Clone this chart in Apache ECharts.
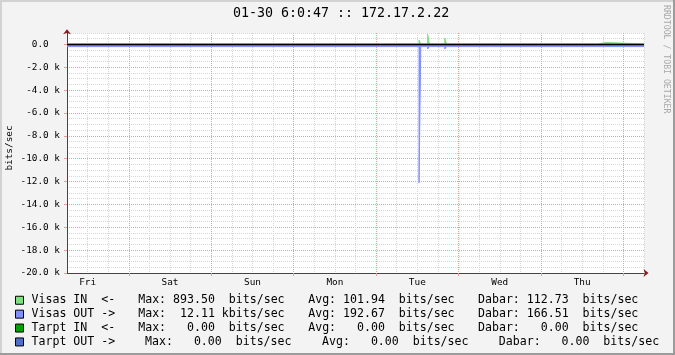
<!DOCTYPE html>
<html><head><meta charset="utf-8">
<script src="https://cdn.jsdelivr.net/npm/echarts@6/dist/echarts.min.js"></script>
<style>html,body{margin:0;padding:0;background:#f3f3f3}#c{width:675px;height:355px}</style>
</head><body><div id="c"></div>
<script>
// ---- data ----
const titleText = '01-30 6:0:47 :: 172.17.2.22';
const watermarkText = 'RRDTOOL / TOBI OETIKER';
const yAxisTitle = 'bits/sec';
const dayLabels = ['Fri', 'Sat', 'Sun', 'Mon', 'Tue', 'Wed', 'Thu'];
const yMajorTicks = [-20000, -18000, -16000, -14000, -12000, -10000, -8000, -6000, -4000, -2000, 0];
const xMajorTicks = [24, 48, 72, 96, 120, 144, 168];
const seriesNames = ['Visas IN', 'Visas OUT', 'Tarpt IN', 'Tarpt OUT'];
const legendLabels = ['Visas IN  <-', 'Visas OUT ->', 'Tarpt IN  <-', 'Tarpt OUT ->'];
const statMax = [893.50, 12.11, 0.00, 0.00];
const statMaxPrefix = [' ', 'k', ' ', ' '];
const statAvg = [101.94, 192.67, 0.00, 0.00];
const statAvgPrefix = [' ', ' ', ' ', ' '];
const statDabar = [112.73, 166.51, 0.00, 0.00];
const statDabarPrefix = [' ', ' ', ' ', ' '];
// hours since Friday 00:00 (first day shown)
const visasInTimes  = [6, 41.5, 42, 68, 68.5, 94.5, 95, 108.5, 109, 111, 111.5, 116, 116.5, 120.5, 121, 147, 147.5, 160.5, 163, 174];
const visasInValues = [40, 170, 40, 170, 40, 190, 40, 380, 40, 893.5, 40, 550, 40, 200, 40, 170, 40, 170, 40, 40];
const visasOutTimes  = [6, 90.5, 91, 96, 96.5, 108.5, 109, 111, 111.5, 116, 116.5, 129, 129.5, 166.5, 167, 168, 168.5, 174];
const visasOutValues = [-190, -100, -190, -100, -190, -12110, -190, -400, -190, -400, -190, -100, -190, -100, -190, -100, -190, -190];
const tarptInTimes = [6, 174];
const tarptInValues = [0, 0];
const tarptOutTimes = [6, 174];
const tarptOutValues = [0, 0];

// ---- styles ----
const MONO = '"DejaVu Sans Mono", monospace';
const colors = ['#7ee07e', '#7f8fff', '#00a000', '#5070c8'];
const GRID_MINOR = '#d6d6d6';
const GRID_MAJOR = '#f09a9a';
const AXIS = '#444444';
const ARROW = '#8b1a1a';

const zip = (t, v) => t.map((x, i) => [x, v[i]]);
const pad6 = (n) => { const s = n.toFixed(2); return ' '.repeat(Math.max(0, 6 - s.length)) + s; };

const LF = 11.58, LH = 13.9;
const tok = (w, extra) => Object.assign({ fontFamily: MONO, fontSize: LF, lineHeight: LH, color: '#000' }, w != null ? { width: w } : {}, extra || {});

const chart = echarts.init(document.getElementById('c'), null, { renderer: 'canvas', devicePixelRatio: 1 });
chart.setOption({
  animation: false,
  backgroundColor: '#f3f3f3',
  title: {
    text: titleText, left: 233, top: 7.5, padding: 0,
    textStyle: { fontFamily: MONO, fontSize: 13.3, fontWeight: 'normal', color: '#000' }
  },
  grid: { left: 67, top: 33, width: 577, height: 240, show: true, backgroundColor: '#ffffff', borderWidth: 0, containLabel: false, outerBoundsMode: 'none' },
  xAxis: [{
    type: 'value', min: 6, max: 174, interval: 6,
    axisLine: { show: true, onZero: false, lineStyle: { color: AXIS, width: 1 } },
    axisTick: { show: false },
    axisLabel: {
      margin: 5, fontFamily: MONO, fontSize: 9.4, color: '#000',
      formatter: (v) => { const d = (v - 12) / 24; return (Number.isInteger(d) && d >= 0 && d < dayLabels.length) ? dayLabels[d] : ''; }
    },
    splitLine: { show: true, lineStyle: { color: [GRID_MINOR, GRID_MINOR, GRID_MINOR, GRID_MAJOR], type: 'dotted', width: 1 } }
  }, {
    type: 'value', min: 6, max: 174, position: 'bottom',
    axisLine: { show: true, onZero: false, symbol: ['none', 'arrow'], symbolSize: [6, 5], symbolOffset: [0, 4.5], lineStyle: { color: ARROW, width: 0 } },
    axisTick: { show: true, customValues: xMajorTicks, length: 3, lineStyle: { color: GRID_MAJOR, width: 1 } },
    axisLabel: { show: false },
    splitLine: { show: false }
  }],
  yAxis: [{
    type: 'value', min: -20000, max: 1000, interval: 500,
    axisLine: { show: true, onZero: false, lineStyle: { color: AXIS, width: 1 } },
    axisTick: { show: false },
    axisLabel: {
      margin: 7, fontFamily: MONO, fontSize: 9.4, color: '#000',
      formatter: (v) => (v % 2000 !== 0) ? '' : (v === 0 ? '0.0  ' : (v / 1000).toFixed(1) + ' k')
    },
    splitLine: { show: true, lineStyle: { color: [GRID_MAJOR, GRID_MINOR, GRID_MINOR, GRID_MINOR], type: 'dotted', width: 1 } }
  }, {
    type: 'value', min: -20000, max: 1000, position: 'left',
    axisLine: { show: true, onZero: false, symbol: ['none', 'arrow'], symbolSize: [6, 5], symbolOffset: [0, 3.8], lineStyle: { color: ARROW, width: 0 } },
    axisTick: { show: true, customValues: yMajorTicks, length: 3, lineStyle: { color: GRID_MAJOR, width: 1 } },
    axisLabel: { show: false },
    splitLine: { show: false }
  }],
  legend: {
    orient: 'vertical', left: 15, top: 293.3, itemWidth: 8, itemHeight: 8, itemGap: 0,
    icon: 'rect', selectedMode: false, padding: 0,
    data: seriesNames.map((n, i) => ({ name: n, itemStyle: { color: colors[i], borderColor: '#000', borderWidth: 1 } })),
    textStyle: {
      fontFamily: MONO, fontSize: LF, lineHeight: LH, color: '#000',
      rich: {
        a: tok(106.7, { padding: [0, 0, 0, 3] }), b: tok(170), c: tok(169.8), d: tok(null),
        a4: tok(113.6, { padding: [0, 0, 0, 3] }), b4: tok(177), c4: tok(176.7)
      }
    },
    formatter: (name) => {
      const i = seriesNames.indexOf(name);
      const s4 = i === 3 ? '4' : '';
      const mx = 'Max: ' + pad6(statMax[i]) + ' ' + statMaxPrefix[i] + 'bits/sec';
      const av = 'Avg: ' + pad6(statAvg[i]) + ' ' + statAvgPrefix[i] + 'bits/sec';
      const db = 'Dabar: ' + pad6(statDabar[i]) + ' ' + statDabarPrefix[i] + 'bits/sec';
      return '{a' + s4 + '|' + legendLabels[i] + '}{b' + s4 + '|' + mx + '}{c' + s4 + '|' + av + '}{d|' + db + '}';
    }
  },
  graphic: [
    { type: 'rect', silent: true, shape: { x: 0, y: 0, width: 675, height: 2 }, style: { fill: '#d2d2d2' } },
    { type: 'rect', silent: true, shape: { x: 0, y: 0, width: 2, height: 355 }, style: { fill: '#d2d2d2' } },
    { type: 'rect', silent: true, shape: { x: 0, y: 353, width: 675, height: 2 }, style: { fill: '#9c9c9c' } },
    { type: 'rect', silent: true, shape: { x: 673, y: 0, width: 2, height: 355 }, style: { fill: '#9c9c9c' } },
    { type: 'text', silent: true, x: 666.5, y: 5, rotation: -Math.PI / 2,
      style: { text: watermarkText, font: '8.2px ' + MONO, fill: '#a8a8a8', align: 'left', verticalAlign: 'middle', textAlign: 'left', textVerticalAlign: 'middle' } },
    { type: 'text', silent: true, x: 9.5, y: 148, rotation: Math.PI / 2,
      style: { text: yAxisTitle, font: '9.4px ' + MONO, fill: '#000', align: 'center', verticalAlign: 'middle', textAlign: 'center', textVerticalAlign: 'middle' } }
  ],
  series: [
    { name: seriesNames[0], type: 'line', step: 'end', symbol: 'none', silent: true, data: zip(visasInTimes, visasInValues),
      lineStyle: { width: 1, color: colors[0] }, itemStyle: { color: colors[0] }, areaStyle: { color: colors[0], opacity: 1 } },
    { name: seriesNames[1], type: 'line', step: 'end', symbol: 'none', silent: true, data: zip(visasOutTimes, visasOutValues),
      lineStyle: { width: 1, color: colors[1] }, itemStyle: { color: colors[1] }, areaStyle: { color: colors[1], opacity: 1 } },
    { name: seriesNames[2], type: 'line', step: 'end', symbol: 'none', silent: true, data: zip(tarptInTimes, tarptInValues),
      lineStyle: { width: 1, color: colors[2] }, itemStyle: { color: colors[2] } },
    { name: seriesNames[3], type: 'line', step: 'end', symbol: 'none', silent: true, data: zip(tarptOutTimes, tarptOutValues),
      lineStyle: { width: 1, color: colors[3] }, itemStyle: { color: colors[3] },
      markLine: { silent: true, symbol: ['none', 'none'], label: { show: false }, animation: false,
        lineStyle: { color: '#000', width: 1.3, type: 'solid' }, data: [{ yAxis: 0 }] } }
  ]
});
</script></body></html>
